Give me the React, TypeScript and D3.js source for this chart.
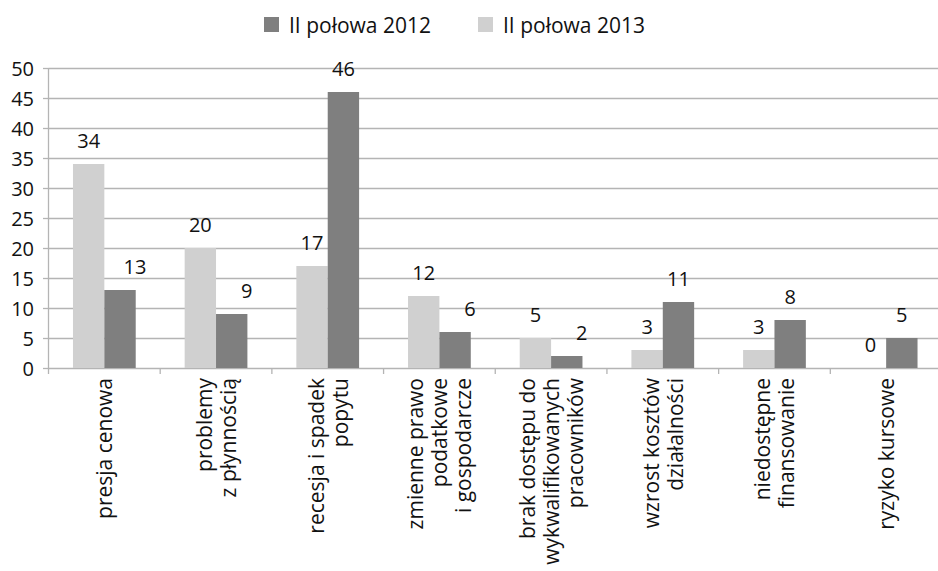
import React from "react";
import * as d3 from "d3";

// Categories (multi-line labels, split on "\n")
const categories: string[] = [
  "presja cenowa",
  "problemy\nz płynnością",
  "recesja i spadek\npopytu",
  "zmienne prawo\npodatkowe\ni gospodarcze",
  "brak dostępu do\nwykwalifikowanych\npracowników",
  "wzrost kosztów\ndziałalności",
  "niedostępne\nfinansowanie",
  "ryzyko kursowe",
];

// Series values
const values2013: number[] = [34, 20, 17, 12, 5, 3, 3, 0];
const values2012: number[] = [13, 9, 46, 6, 2, 11, 8, 5];

const seriesNames: string[] = ["II połowa 2013", "II połowa 2012"];
const legendOrder: string[] = ["II połowa 2012", "II połowa 2013"];

// Y axis ticks
const yTicks: number[] = [0, 5, 10, 15, 20, 25, 30, 35, 40, 45, 50];

// Dark-series labels shifted sideways to keep clear of neighbouring labels
const nudgedDarkLabels: number[] = [0, 1, 3, 4];

const W = 938;
const H = 571;
const FONT = "'Open Sans', 'Noto Sans', sans-serif";
const colors: Record<string, string> = {
  "II połowa 2013": "#d0d0d0",
  "II połowa 2012": "#7f7f7f",
};
const GRID = "#b4b4b4";

export default function App() {
  const plotLeft = 48.5;
  const plotRight = 942;
  const plotTop = 68;
  const plotBottom = 368;

  const x0 = d3.scaleBand<string>().domain(categories).range([plotLeft, plotRight]).padding(0);
  const x1 = d3
    .scaleBand<string>()
    .domain(seriesNames)
    .range([0, x0.bandwidth()])
    .paddingInner(0)
    .paddingOuter(0.78);
  const y = d3.scaleLinear().domain([0, 50]).range([plotBottom, plotTop]);

  const seriesData: Record<string, number[]> = {
    "II połowa 2013": values2013,
    "II połowa 2012": values2012,
  };

  return (
    <svg
      width={W}
      height={H}
      style={{ position: "absolute", left: 0, top: 0, background: "#fff" }}
      fontFamily={FONT}
    >
      {/* legend */}
      {legendOrder.map((name, i) => {
        const lx = 264 + i * 214;
        return (
          <g key={name}>
            <rect x={lx} y={17} width={15} height={15} fill={colors[name]} />
            <text x={lx + 25} y={33} fontSize={21} fill="#111">
              {name}
            </text>
          </g>
        );
      })}

      {/* gridlines and y ticks */}
      {yTicks.map((t) => (
        <g key={t}>
          <line
            x1={plotLeft}
            x2={W}
            y1={Math.round(y(t)) + 0.5}
            y2={Math.round(y(t)) + 0.5}
            stroke={GRID}
            strokeWidth={1.3}
          />
          <line
            x1={43}
            x2={plotLeft}
            y1={Math.round(y(t)) + 0.5}
            y2={Math.round(y(t)) + 0.5}
            stroke={GRID}
            strokeWidth={1.3}
          />
          <text
            x={34}
            y={y(t)}
            textAnchor="end"
            dominantBaseline="central"
            fontSize={20}
            fill="#111"
          >
            {t}
          </text>
        </g>
      ))}

      {/* y axis line */}
      <line x1={plotLeft} x2={plotLeft} y1={plotTop} y2={plotBottom + 0.5} stroke={GRID} strokeWidth={1.3} />

      {/* category tick marks */}
      {categories.map((c, i) => {
        const tx = (x0(c) as number) + (i === 0 ? 0 : 0);
        return (
          <line
            key={c}
            x1={tx}
            x2={tx}
            y1={plotBottom}
            y2={plotBottom + 6}
            stroke={GRID}
            strokeWidth={1.3}
          />
        );
      })}

      {/* bars */}
      {seriesNames.map((s) =>
        categories.map((c, i) => {
          const v = seriesData[s][i];
          const bx = (x0(c) as number) + (x1(s) as number);
          return (
            <rect
              key={s + c}
              x={bx}
              y={y(v)}
              width={x1.bandwidth()}
              height={plotBottom - y(v)}
              fill={colors[s]}
            />
          );
        })
      )}

      {/* value labels */}
      {seriesNames.map((s) =>
        categories.map((c, i) => {
          const v = seriesData[s][i];
          const cx = (x0(c) as number) + (x1(s) as number) + x1.bandwidth() / 2;
          const nudge = s === "II połowa 2012" && nudgedDarkLabels.includes(i) ? 15 : 0;
          return (
            <text
              key={"l" + s + c}
              x={cx + nudge}
              y={y(v) - 16}
              textAnchor="middle"
              fontSize={20}
              fill="#111"
            >
              {v}
            </text>
          );
        })
      )}

      {/* category labels, rotated */}
      {categories.map((c) => {
        const lines = c.split("\n");
        const cx = (x0(c) as number) + x0.bandwidth() / 2;
        return (
          <g key={"c" + c}>
            {lines.map((ln, j) => {
              const bx = cx + 8 + (j - (lines.length - 1) / 2) * 24;
              return (
                <text
                  key={j}
                  transform={`translate(${bx},378) rotate(-90)`}
                  textAnchor="end"
                  fontSize={21}
                  fill="#111"
                >
                  {ln}
                </text>
              );
            })}
          </g>
        );
      })}
    </svg>
  );
}
